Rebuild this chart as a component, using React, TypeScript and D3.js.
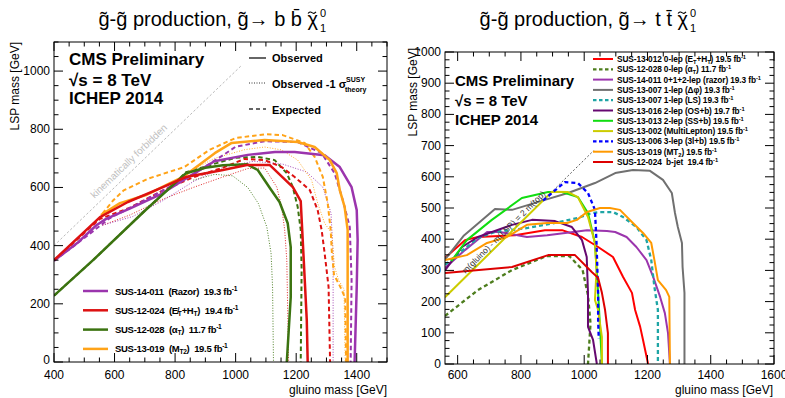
import React from 'react';
import * as d3 from 'd3';

type Pt = [number, number];
type Seg = [string, ('sub' | 'sup')?];

// ---------- left panel: gluino -> b bbar LSP ----------
const bbDiagonal: Pt[] = [[400, 400], [1020, 1020]];

const razorBbObs: Pt[] = [[400, 348], [480, 412], [540, 470], [572, 492], [650, 527], [750, 575], [850, 640], [930, 690], [1040, 712], [1130, 722], [1195, 722], [1294, 711], [1344, 670], [1383, 601], [1400, 522], [1403, 419], [1400, 258], [1393, 0]];
const razorBbExp: Pt[] = [[400, 348], [480, 410], [585, 495], [661, 535], [760, 590], [860, 645], [960, 712], [1000, 740], [1096, 759], [1205, 756], [1284, 718], [1327, 649], [1354, 557], [1377, 464], [1383, 282], [1380, 0]];
const razorBbObsM1: Pt[] = [[560, 470], [660, 500], [760, 555], [860, 620], [960, 670], [1060, 690], [1156, 680], [1235, 653], [1288, 601], [1315, 512], [1322, 374], [1322, 0]];

const htBbObs: Pt[] = [[400, 350], [552, 498], [644, 550], [760, 601], [836, 636], [958, 660], [1037, 677], [1113, 677], [1189, 601], [1215, 553], [1225, 350], [1235, 144], [1238, 0]];
const htBbExp: Pt[] = [[400, 350], [552, 492], [650, 530], [760, 590], [860, 635], [958, 668], [1030, 698], [1096, 694], [1152, 670], [1195, 636], [1245, 591], [1271, 522], [1284, 454], [1294, 374], [1307, 258], [1312, 0]];
const htBbObsM1: Pt[] = [[560, 470], [650, 505], [760, 560], [860, 600], [958, 636], [1040, 665], [1096, 667], [1136, 601], [1152, 533], [1162, 454], [1169, 350], [1175, 0]];

const alphaTBbObs: Pt[] = [[400, 228], [529, 350], [700, 520], [836, 649], [900, 668], [958, 676], [1037, 680], [1073, 660], [1113, 598], [1145, 550], [1172, 477], [1182, 395], [1182, 223], [1169, 0]];
const alphaTBbExp: Pt[] = [[400, 228], [529, 350], [700, 520], [836, 652], [958, 690], [1000, 702], [1073, 705], [1129, 694], [1169, 649], [1189, 601], [1205, 533], [1215, 454], [1218, 316], [1215, 0]];
const alphaTBbObsM1: Pt[] = [[860, 625], [930, 645], [990, 640], [1040, 600], [1075, 545], [1103, 464], [1117, 374], [1122, 258], [1125, 0]];

const mt2BbObs: Pt[] = [[555, 505], [618, 546], [704, 574], [750, 598], [826, 636], [931, 718], [987, 753], [1096, 763], [1205, 756], [1261, 739], [1311, 694], [1334, 649], [1344, 591], [1360, 533], [1370, 454], [1370, 0]];
const mt2BbExp: Pt[] = [[560, 510], [595, 555], [630, 590], [710, 630], [830, 670], [915, 730], [1000, 770], [1100, 783], [1155, 780], [1228, 753], [1261, 705], [1288, 636], [1304, 546], [1314, 454], [1318, 374], [1325, 300], [1345, 260], [1362, 220], [1365, 0]];
const mt2BbObsM1: Pt[] = [[830, 645], [930, 700], [1030, 730], [1096, 739], [1152, 729], [1205, 694], [1251, 625], [1271, 546], [1294, 477], [1317, 443], [1327, 326], [1340, 282], [1358, 250], [1362, 0]];

const leftLabels: Seg[][] = [
  [['SUS-14-011  (Razor)  19.3 fb'], ['-1', 'sup']],
  [['SUS-12-024  (E\u0338'], ['T', 'sub'], ['+H'], ['T', 'sub'], [')  19.4 fb'], ['-1', 'sup']],
  [['SUS-12-028  (\u03b1'], ['T', 'sub'], [')  11.7 fb'], ['-1', 'sup']],
  [['SUS-13-019  (M'], ['T2', 'sub'], [')  19.5 fb'], ['-1', 'sup']],
];
const leftColors = ['#9b35ad', '#dd1111', '#3b7310', '#ffa318'];

// ---------- right panel: gluino -> t tbar LSP ----------
const ttDiagonal: Pt[] = [[560, 214], [1030, 684]];

const ht0lTt: Pt[] = [[560, 340], [623, 397], [664, 407], [781, 413], [876, 429], [930, 429], [993, 407], [1044, 375], [1091, 343], [1123, 279], [1151, 228], [1161, 173], [1177, 119], [1186, 77], [1202, 0]];
const alphaTTt: Pt[] = [[560, 154], [664, 237], [772, 301], [881, 346], [953, 346], [995, 301], [1012, 220], [1020, 130], [1012, 0]];
const razorTt: Pt[] = [[560, 308], [623, 365], [693, 423], [734, 423], [819, 407], [883, 413], [965, 423], [1009, 429], [1072, 426], [1098, 423], [1134, 407], [1165, 375], [1197, 333], [1218, 279], [1240, 215], [1255, 163], [1265, 99], [1271, 0]];
const dphiTt: Pt[] = [[560, 335], [620, 412], [718, 497], [772, 494], [876, 526], [949, 548], [1034, 580], [1098, 612], [1154, 622], [1208, 619], [1249, 590], [1277, 548], [1287, 484], [1296, 439], [1309, 388], [1311, 311], [1317, 228], [1317, 0]];
const lsTt: Pt[] = [[560, 318], [664, 404], [718, 423], [822, 436], [908, 452], [980, 468], [1024, 484], [1050, 487], [1091, 487], [1123, 471], [1165, 439], [1197, 397], [1212, 333], [1222, 247], [1233, 173], [1233, 0]];
const osbTt: Pt[] = [[560, 300], [614, 375], [664, 407], [772, 446], [835, 462], [908, 458], [961, 439], [993, 397], [1008, 343], [1012, 228], [1012, 119], [1028, 77], [1040, 0]];
const ssbTt: Pt[] = [[580, 330], [629, 397], [708, 462], [803, 532], [886, 551], [930, 551], [980, 535], [1012, 484], [1034, 388], [1044, 228], [1050, 119], [1056, 0]];
const multiLepTt: Pt[] = [[560, 214], [898, 552], [949, 551], [980, 535], [1012, 471], [1034, 388], [1039, 301], [1034, 205], [1044, 173], [1056, 87], [1056, 0]];
const threeLepTt: Pt[] = [[870, 524], [939, 583], [980, 580], [1012, 548], [1034, 494], [1039, 388], [1044, 228], [1044, 141], [1046, 80]];
const mt2Tt: Pt[] = [[560, 333], [629, 349], [693, 388], [756, 407], [819, 446], [883, 452], [946, 452], [977, 462], [1009, 487], [1050, 500], [1081, 500], [1113, 494], [1154, 452], [1186, 420], [1212, 388], [1222, 333], [1233, 269], [1259, 237], [1269, 215], [1271, 0]];
const bjetTt: Pt[] = [[560, 292], [772, 311], [886, 349], [971, 349], [1024, 295], [1044, 276], [1056, 228], [1066, 173], [1075, 99], [1075, 0]];

const rightLabels: Seg[][] = [
  [['SUS-13-012 0-lep (E'], ['T', 'sub'], ['+H'], ['T', 'sub'], [') 19.5 fb'], ['-1', 'sup']],
  [['SUS-12-028 0-lep (\u03b1'], ['T', 'sub'], [') 11.7 fb'], ['-1', 'sup']],
  [['SUS-14-011 0+1+2-lep (razor) 19.3 fb'], ['-1', 'sup']],
  [['SUS-13-007 1-lep (\u0394\u03c6) 19.3 fb'], ['-1', 'sup']],
  [['SUS-13-007 1-lep (LS) 19.3 fb'], ['-1', 'sup']],
  [['SUS-13-016 2-lep (OS+b) 19.7 fb'], ['-1', 'sup']],
  [['SUS-13-013 2-lep (SS+b) 19.5 fb'], ['-1', 'sup']],
  [['SUS-13-002 (MultiLepton) 19.5 fb'], ['-1', 'sup']],
  [['SUS-13-006 3-lep (3l+b) 19.5 fb'], ['-1', 'sup']],
  [['SUS-13-019 (MT'], ['2', 'sub'], [') 19.5 fb'], ['-1', 'sup']],
  [['SUS-12-024  b-jet  19.4 fb'], ['-1', 'sup']],
];
const rightColors = ['#ff0000', '#4d7d1d', '#9b35ad', '#707070', '#1fa5a5', '#660870', '#11dd11', '#cccc00', '#0000ff', '#ff9900', '#dd0000'];
const rightDashed = [false, true, false, false, true, false, false, false, true, false, false];

const FONT = '"Liberation Sans", Arial, Helvetica, sans-serif';

interface Series { data: Pt[]; color: string; width: number; dash?: string }

const Rich = ({ segs, size }: { segs: Seg[]; size: number }) => (
  <>
    {segs.map(([t, k], i) =>
      k ? (
        <tspan key={i} fontSize={size * 0.7} baselineShift={k === 'sup' ? size * 0.42 : -size * 0.25}>{t}</tspan>
      ) : (
        <tspan key={i}>{t}</tspan>
      )
    )}
  </>
);

const Axes = ({ x, y, xMajor, xMinor, yMajor, yMinor }: any) => {
  const [x0, x1] = x.range();
  const [y0, y1] = y.range();
  const maj = 9, mnr = 4.5;
  return (
    <g stroke="#000" strokeWidth={1} fill="none">
      {xMinor.map((v: number) => {
        const len = xMajor.includes(v) ? maj : mnr;
        const p = x(v);
        return (
          <g key={'x' + v}>
            <line x1={p} x2={p} y1={y0} y2={y0 - len} />
            <line x1={p} x2={p} y1={y1} y2={y1 + len} />
          </g>
        );
      })}
      {yMinor.map((v: number) => {
        const len = yMajor.includes(v) ? maj : mnr;
        const p = y(v);
        return (
          <g key={'y' + v}>
            <line x1={x0} x2={x0 + len} y1={p} y2={p} />
            <line x1={x1} x2={x1 - len} y1={p} y2={p} />
          </g>
        );
      })}
      <rect x={x0} y={y1} width={x1 - x0} height={y0 - y1} />
    </g>
  );
};

const Curves = ({ x, y, series, clip }: { x: any; y: any; series: Series[]; clip: string }) => {
  const line = d3.line<Pt>().x(d => x(d[0])).y(d => y(d[1]));
  return (
    <g clipPath={`url(#${clip})`} fill="none" strokeLinejoin="round">
      {series.map((s, i) => (
        <path key={i} d={line(s.data) || ''} stroke={s.color} strokeWidth={s.width} strokeDasharray={s.dash} />
      ))}
    </g>
  );
};

// title: body ends with chi; its tilde is a small path so the 0/1 indices sit clear of it
const Title = ({ xEnd, body }: { xEnd: number; body: string }) => (
  <g>
    <text x={xEnd} y={26} fontSize={20} textAnchor="end">{body}</text>
    <path
      d={`M${xEnd - 10},${13.5} q2,-2.5 4,-0.8 t4,-0.8`}
      fill="none"
      stroke="#000"
      strokeWidth={1.1}
    />
    <text x={xEnd + 2} y={17} fontSize={11}>0</text>
    <text x={xEnd + 2} y={32} fontSize={11}>1</text>
  </g>
);

const App: React.FC = () => {
  const xL = d3.scaleLinear().domain([400, 1500]).range([54, 387]);
  const yL = d3.scaleLinear().domain([0, 1100]).range([362, 42]);
  const xR = d3.scaleLinear().domain([560, 1600]).range([445, 774]);
  const yR = d3.scaleLinear().domain([0, 1000]).range([364, 52]);

  const dot = '1,1.6';
  const dash = '4.5,3';
  const [cP, cR, cG, cO] = leftColors;
  const leftSeries: Series[] = [
    { data: bbDiagonal, color: '#bbbbbb', width: 1, dash: '2.5,2' },
    { data: alphaTBbObsM1, color: cG, width: 0.9, dash: dot },
    { data: htBbObsM1, color: cR, width: 0.9, dash: dot },
    { data: razorBbObsM1, color: cP, width: 0.9, dash: dot },
    { data: mt2BbObsM1, color: cO, width: 0.9, dash: dot },
    { data: alphaTBbExp, color: cG, width: 2, dash: dash },
    { data: htBbExp, color: cR, width: 2, dash: dash },
    { data: razorBbExp, color: cP, width: 2, dash: dash },
    { data: mt2BbExp, color: cO, width: 2, dash: dash },
    { data: razorBbObs, color: cP, width: 2.5 },
    { data: mt2BbObs, color: cO, width: 2.5 },
    { data: alphaTBbObs, color: cG, width: 2.5 },
    { data: htBbObs, color: cR, width: 2.5 },
  ];

  const rightData = [ht0lTt, alphaTTt, razorTt, dphiTt, lsTt, osbTt, ssbTt, multiLepTt, threeLepTt, mt2Tt, bjetTt];
  const rightSeries: Series[] = [
    { data: ttDiagonal, color: '#333333', width: 0.8, dash: '2,2' },
    ...rightData.map((d, i) => ({
      data: d,
      color: rightColors[i],
      width: rightDashed[i] ? 2.3 : 2,
      dash: rightDashed[i] ? '4,3' : undefined,
    })),
  ];

  const tickFont = 12;
  const ang = (-Math.atan((yR(0) - yR(100)) / (xR(660) - xR(560))) * 180) / Math.PI;
  const angL = (-Math.atan((yL(0) - yL(100)) / (xL(500) - xL(400))) * 180) / Math.PI;

  return (
    <svg width={785} height={398} style={{ position: 'absolute', left: 0, top: 0, background: '#fff' }} fontFamily={FONT}>
      <defs>
        <clipPath id="clipL"><rect x={54} y={42} width={333} height={320} /></clipPath>
        <clipPath id="clipR"><rect x={445} y={52} width={329} height={312} /></clipPath>
      </defs>
      <rect width={785} height={398} fill="#fff" />

      {/* titles */}
      <Title xEnd={318} body={'g\u0303-g\u0303 production,  g\u0303\u2192 b b\u0304 \u03c7'} />
      <Title xEnd={688} body={'g\u0303-g\u0303 production,  g\u0303\u2192 t t\u0304 \u03c7'} />

      {/* ---------- left panel ---------- */}
      <Curves x={xL} y={yL} series={leftSeries} clip="clipL" />
      <text transform={`translate(${xL(655)},${yL(682)}) rotate(${angL})`} fontSize={10} fill="#c0c0c0" textAnchor="middle">kinematically forbidden</text>
      <Axes x={xL} y={yL} xMajor={d3.range(400, 1501, 200)} xMinor={d3.range(400, 1501, 50)} yMajor={d3.range(0, 1101, 200)} yMinor={d3.range(0, 1101, 50)} />
      {d3.range(400, 1401, 200).map(v => (
        <text key={v} x={xL(v)} y={379} fontSize={tickFont} textAnchor="middle">{v}</text>
      ))}
      {d3.range(0, 1001, 200).map(v => (
        <text key={v} x={50} y={yL(v) + (v === 0 ? 2 : 4)} fontSize={tickFont} textAnchor="end">{v}</text>
      ))}
      <text x={387} y={394} fontSize={12} textAnchor="end">gluino mass [GeV]</text>
      <text transform="translate(19,42) rotate(-90)" fontSize={12} textAnchor="end">LSP mass [GeV]</text>

      <g fontWeight="bold">
        <text x={69} y={65} fontSize={17}>CMS Preliminary</text>
        <text x={69} y={86} fontSize={17}>{'\u221As = 8 TeV'}</text>
        <text x={69} y={104} fontSize={17}>ICHEP 2014</text>
      </g>

      <g stroke="#333" fill="none">
        <line x1={249} x2={266} y1={58} y2={58} strokeWidth={1.5} />
        <line x1={249} x2={266} y1={83} y2={83} strokeWidth={1} strokeDasharray="1,1.5" />
        <line x1={249} x2={266} y1={109} y2={109} strokeWidth={1.5} strokeDasharray="4,3" />
      </g>
      <g fontSize={11} fontWeight="bold">
        <text x={272} y={62}>Observed</text>
        <text x={272} y={88}>{'Observed -1 \u03c3'}</text>
        <text x={346} y={82} fontSize={7}>SUSY</text>
        <text x={345} y={92} fontSize={7}>theory</text>
        <text x={272} y={114}>Expected</text>
      </g>

      {leftLabels.map((segs, i) => {
        const yy = 291 + i * 19.3;
        return (
          <g key={i}>
            <line x1={83} x2={108} y1={yy} y2={yy} stroke={leftColors[i]} strokeWidth={2.5} />
            <text x={115} y={yy + 3.5} fontSize={9.5} fontWeight="bold" letterSpacing={-0.3} style={{ whiteSpace: 'pre' }}>
              <Rich segs={segs} size={9.5} />
            </text>
          </g>
        );
      })}

      {/* ---------- right panel ---------- */}
      <Curves x={xR} y={yR} series={rightSeries} clip="clipR" />
      <text transform={`translate(${xR(752)},${yR(416)}) rotate(${ang})`} fontSize={8.5} fill="#333" textAnchor="middle">m(gluino) - m(LSP) = 2 m(top)</text>
      <Axes x={xR} y={yR} xMajor={d3.range(600, 1601, 200)} xMinor={d3.range(600, 1601, 50)} yMajor={d3.range(0, 1001, 100)} yMinor={d3.range(0, 1001, 25)} />
      {d3.range(600, 1601, 200).map(v => (
        <text key={v} x={xR(v)} y={379} fontSize={tickFont} textAnchor="middle">{v}</text>
      ))}
      {d3.range(0, 1001, 100).map(v => (
        <text key={v} x={441} y={yR(v) + 4} fontSize={tickFont} textAnchor="end">{v}</text>
      ))}
      <text x={773} y={394} fontSize={12} textAnchor="end">gluino mass [GeV]</text>
      <text transform="translate(417,48) rotate(-90)" fontSize={12} textAnchor="end">LSP mass [GeV]</text>

      <g fontWeight="bold">
        <text x={455} y={86} fontSize={15}>CMS Preliminary</text>
        <text x={455} y={106} fontSize={15}>{'\u221As = 8 TeV'}</text>
        <text x={455} y={125} fontSize={15}>ICHEP 2014</text>
      </g>

      {rightLabels.map((segs, i) => {
        const yy = 59 + i * 10.3;
        return (
          <g key={i}>
            <line x1={593} x2={613} y1={yy} y2={yy} stroke={rightColors[i]} strokeWidth={rightDashed[i] ? 2.3 : 2} strokeDasharray={rightDashed[i] ? '3.5,2.5' : undefined} />
            <text x={617} y={yy + 3} fontSize={8.3} fontWeight="bold" letterSpacing={-0.1} style={{ whiteSpace: 'pre' }}>
              <Rich segs={segs} size={8.3} />
            </text>
          </g>
        );
      })}
    </svg>
  );
};

export default App;
